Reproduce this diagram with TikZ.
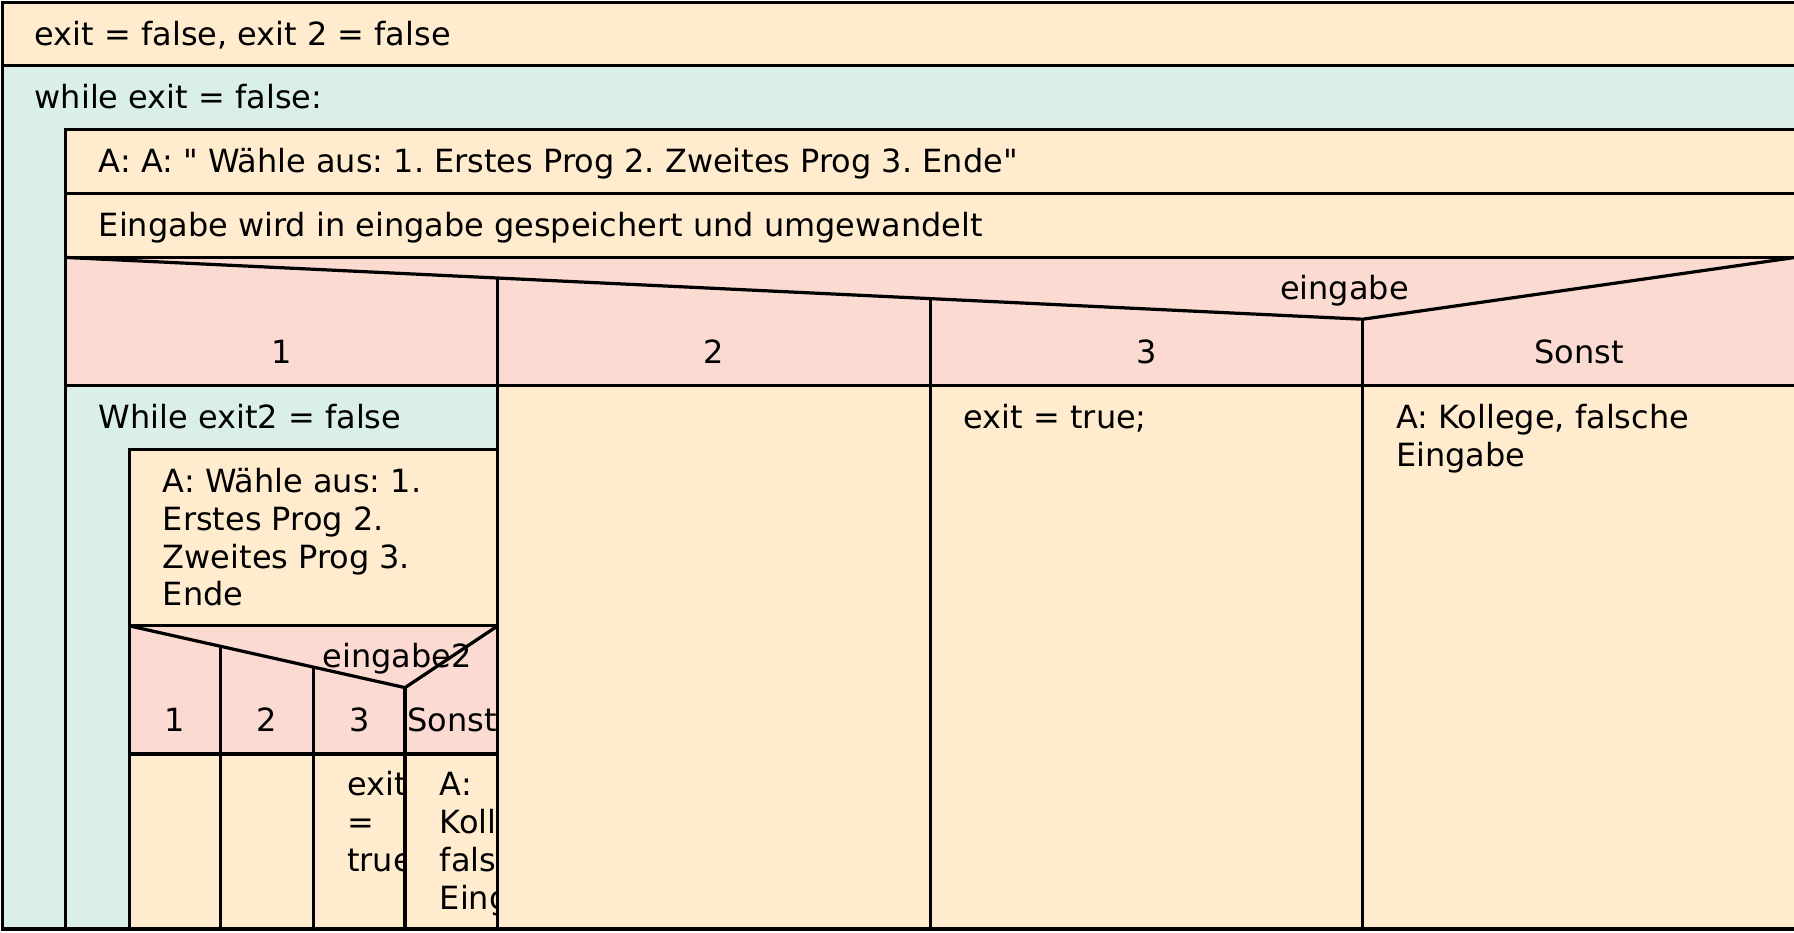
\documentclass[tikz,border=0pt]{standalone}
\usepackage{fontspec}
\setmainfont{DejaVu Sans}[Ligatures=TeXOff]
\frenchspacing
\definecolor{stmtc}{HTML}{FFECCF}
\definecolor{loopc}{HTML}{DAEFE5}
\definecolor{casec}{HTML}{FADAD1}
\begin{document}
\begin{tikzpicture}[
x=0.02cm,y=-0.02cm,
line width=1.6pt,
stmt/.style={draw, fill=stmtc},
wbox/.style={draw, fill=loopc},
cbox/.style={draw, fill=casec},
txt/.style={anchor=base west, inner sep=0pt, align=left, font=\fontsize{15.9}{18.8}\selectfont},
ctxt/.style={anchor=base, inner sep=0pt, font=\fontsize{15.9}{18.8}\selectfont}
]
\clip(0,0)rectangle(1568,815);
%% Init
\draw[stmt](2,2)rectangle(1580,57);
\node[txt]at(29,39.5)(init){exit = false, exit 2 = false};
%% Outer loop
\draw[wbox](2,57)rectangle(1580,812);
\node[txt]at(29,94.5)(wout){while exit = false:};
\draw[stmt](57,113)rectangle(1580,169);
\node[txt]at(85,150.5)(menu){A: A: " Wähle aus: 1. Erstes Prog 2. Zweites Prog 3. Ende"};
\draw[stmt](57,169)rectangle(1580,225);
\node[txt]at(85,206.5)(read){Eingabe wird in eingabe gespeichert und umgewandelt};
%% Case eingabe
\draw[cbox](57,225)rectangle(1569,337);
\draw(57,225)--(1191,279)--(1569,225);
\foreach \x/\y in {435/243,813/261,1191/279}
  \draw(\x,\y)--(\x,337);
\node[ctxt]at(1175,262)(sel){eingabe};
\node[ctxt]at(246,317.5)(c1){1};
\node[ctxt]at(624,317.5)(c2){2};
\node[ctxt]at(1002,317.5)(c3){3};
\node[ctxt]at(1380,317.5)(c4){Sonst};
%% Branches 2, 3, Sonst (base anchor = last line)
\draw[stmt](435,337)rectangle(813,812);
\draw[stmt](813,337)rectangle(1191,812);
\node[txt]at(841,374.5)(ex){exit = true;};
\draw[stmt](1191,337)rectangle(1569,812);
\node[txt]at(1219,407.7)(err){A: Kollege, falsche\\Eingabe};
%% Branch 1: inner loop
\draw[wbox](57,337)rectangle(435,812);
\node[txt]at(85,374.5)(win){While exit2 = false};
\draw[stmt](113,393)rectangle(435,547);
\node[txt]at(141,529.6)(menu2){A: Wähle aus: 1.\\Erstes Prog 2.\\Zweites Prog 3.\\Ende};
%% Case eingabe2
\draw[cbox](113,547)rectangle(435,659);
\draw(113,547)--(354,601)--(435,547);
\foreach \x/\y in {193/565,274/583,354/601}
  \draw(\x,\y)--(\x,659);
\node[ctxt]at(347,583)(sel2){eingabe2};
\foreach \x/\n in {153/1,233/2,314/3}
  \node[ctxt]at(\x,639.5)(d\n){\n};
\begin{scope}
\clip(354,547)rectangle(435,659);
\node[ctxt]at(395,639.5)(d4){Sonst};
\end{scope}
\foreach \a/\b in {113/193,193/274,274/354,354/435}
  \draw[stmt](\a,659)rectangle(\b,812);
\begin{scope}
\clip(274,659)rectangle(354,812);
\node[txt]at(302,761.4)(ex2){exit\\=\\true};
\end{scope}
\begin{scope}
\clip(354,659)rectangle(435,812);
\node[txt]at(383,794.6)(err2){A:\\Kollege,\\falsche\\Eingabe};
\end{scope}
\end{tikzpicture}
\end{document}
